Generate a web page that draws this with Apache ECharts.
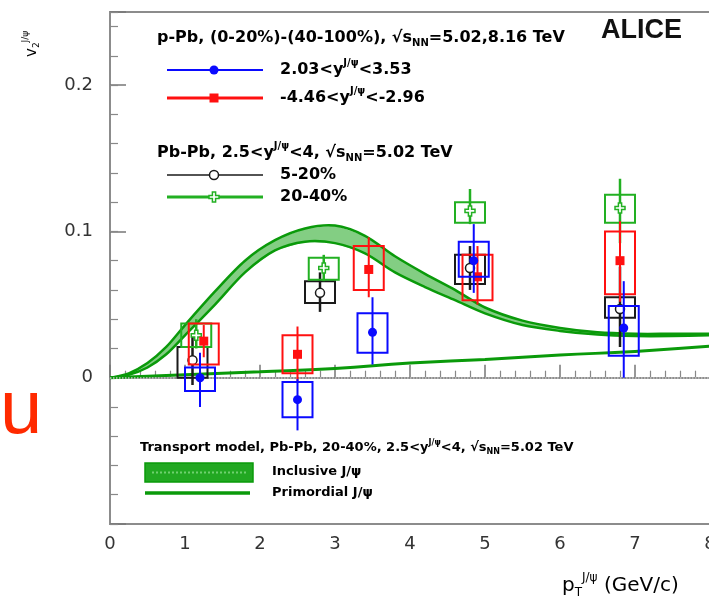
<!DOCTYPE html>
<html>
<head>
<meta charset="utf-8">
<script src="https://cdn.jsdelivr.net/npm/echarts@6/dist/echarts.min.js"></script>
<style>
html, body { margin: 0; padding: 0; background: #fff; }
#chart { width: 709px; height: 603px; }
</style>
</head>
<body>
<div id="chart"></div>
<script>
// transport model, Pb-Pb 20-40%
const modelPt = [0, 0.25, 0.5, 0.75, 1.0, 1.4, 1.8, 2.2, 2.6, 3.0, 3.4, 3.8, 4.2, 4.6, 5.0, 5.5, 6.0, 6.5, 7.0, 7.5, 8.0];
const inclusiveLow = [0, 0.002, 0.007, 0.016, 0.029, 0.050, 0.072, 0.087, 0.093, 0.092, 0.085, 0.072, 0.062, 0.053, 0.044, 0.036, 0.032, 0.0295, 0.0285, 0.0285, 0.029];
const inclusiveHigh = [0, 0.003, 0.010, 0.021, 0.036, 0.059, 0.080, 0.094, 0.102, 0.104, 0.097, 0.083, 0.071, 0.060, 0.048, 0.039, 0.034, 0.031, 0.030, 0.030, 0.030];
const primordialPt = [0, 1, 2, 3, 4, 5, 6, 7, 8];
const primordial = [0, 0.002, 0.004, 0.0063, 0.010, 0.0125, 0.0155, 0.018, 0.0215];

// points: [pT, v2, statLow, statHigh, sysLow, sysHigh]
const pPbForward = [
    [1.2, 0.000, -0.020, 0.017, -0.009, 0.007],
    [2.5, -0.015, -0.036, -0.001, -0.027, -0.003],
    [3.5, 0.031, 0.009, 0.055, 0.017, 0.044],
    [4.85, 0.080, 0.058, 0.105, 0.069, 0.093],
    [6.85, 0.034, 0.000, 0.066, 0.015, 0.049]
];
const pPbBackward = [
    [1.25, 0.025, 0.014, 0.036, 0.009, 0.037],
    [2.5, 0.016, -0.003, 0.035, 0.003, 0.029],
    [3.45, 0.074, 0.055, 0.096, 0.060, 0.090],
    [4.9, 0.069, 0.050, 0.090, 0.053, 0.084],
    [6.8, 0.080, 0.052, 0.107, 0.057, 0.100]
];
const PbPbCentral = [
    [1.1, 0.012, -0.005, 0.030, 0.000, 0.021],
    [2.8, 0.058, 0.045, 0.072, 0.051, 0.066],
    [4.8, 0.075, 0.060, 0.090, 0.064, 0.084],
    [6.8, 0.047, 0.021, 0.076, 0.041, 0.055]
];
const PbPbSemi = [
    [1.15, 0.029, 0.020, 0.040, 0.021, 0.037],
    [2.85, 0.075, 0.066, 0.084, 0.067, 0.082],
    [4.8, 0.114, 0.105, 0.129, 0.106, 0.120],
    [6.8, 0.116, 0.092, 0.136, 0.106, 0.125]
];

const F = '"DejaVu Sans", "Liberation Sans", sans-serif';
const BLUE = '#0a0aff', RED = '#ff1010', BLACK = '#1a1a1a', GREEN = '#22b022', BAND = '#0a9a0a';

function zip(xs, ys) {
    return xs.map((x, i) => [x, ys[i]]);
}

function markerShape(kind, cx, cy, color) {
    if (kind === 'square') {
        return { type: 'rect', shape: { x: cx - 4.5, y: cy - 4.5, width: 9, height: 9 }, style: { fill: color } };
    }
    if (kind === 'opencircle') {
        return { type: 'circle', shape: { cx: cx, cy: cy, r: 4.5 }, style: { fill: '#fff', stroke: color, lineWidth: 1.5 } };
    }
    if (kind === 'opencross') {
        const a = 1.6, b = 5;
        return { type: 'polygon', shape: { points: [
            [cx - a, cy - b], [cx + a, cy - b], [cx + a, cy - a], [cx + b, cy - a], [cx + b, cy + a], [cx + a, cy + a],
            [cx + a, cy + b], [cx - a, cy + b], [cx - a, cy + a], [cx - b, cy + a], [cx - b, cy - a], [cx - a, cy - a]
        ] }, style: { fill: '#fff', stroke: color, lineWidth: 1.5 } };
    }
    return { type: 'circle', shape: { cx: cx, cy: cy, r: 4.5 }, style: { fill: color } };
}

function pointSeries(data, color, kind, barWidth) {
    return {
        type: 'custom',
        data: data,
        encode: { x: 0, y: 1 },
        z: 5,
        renderItem: function (params, api) {
            const x = api.value(0);
            const p = api.coord([x, api.value(1)]);
            const s0 = api.coord([x, api.value(2)]);
            const s1 = api.coord([x, api.value(3)]);
            const b0 = api.coord([x - 0.2, api.value(4)]);
            const b1 = api.coord([x + 0.2, api.value(5)]);
            return {
                type: 'group',
                children: [
                    { type: 'rect', shape: { x: b0[0], y: b1[1], width: b1[0] - b0[0], height: b0[1] - b1[1] },
                      style: { fill: 'none', stroke: color, lineWidth: 2 } },
                    { type: 'line', shape: { x1: p[0], y1: s0[1], x2: p[0], y2: s1[1] },
                      style: { stroke: color, lineWidth: barWidth } },
                    markerShape(kind, p[0], p[1], color)
                ]
            };
        }
    };
}

function makeRich(size, weight) {
    const base = { fontFamily: F, fontWeight: weight, color: '#161616' };
    const small = Math.round(size * 0.62);
    return {
        t: Object.assign({ fontSize: size }, base),
        sup: Object.assign({ fontSize: small, padding: [0, 0, Math.round(size * 0.85), 0] }, base),
        sub: Object.assign({ fontSize: small, padding: [Math.round(size * 0.65), 0, 0, 0] }, base)
    };
}
const rich = makeRich(16, 'bold');
const smallRich = makeRich(13, 'bold');

function label(x, y, text, r) {
    return { type: 'text', x: x, y: y, style: { text: text, rich: r || rich, verticalAlign: 'middle', align: 'left' } };
}
function sample(y, color, width, kind) {
    return [
        { type: 'line', shape: { x1: 167, y1: y, x2: 263, y2: y }, style: { stroke: color, lineWidth: width } },
        markerShape(kind, 214, y, color)
    ];
}

const chart = echarts.init(document.getElementById('chart'), null, { renderer: 'canvas' });

chart.setOption({
    animation: false,
    backgroundColor: '#fff',
    grid: {
        left: 110, top: 12, width: 600, height: 512, outerBoundsMode: 'none',
        show: true, borderColor: '#8c8c8c', borderWidth: 2
    },
    xAxis: {
        type: 'value', min: 0, max: 8, interval: 1,
        axisLine: { lineStyle: { color: '#8c8c8c', width: 2 } },
        axisTick: { inside: true, length: 13, lineStyle: { color: '#777', width: 1.5 } },
        minorTick: { show: true, splitNumber: 5, length: 7, lineStyle: { color: '#888', width: 1.2 } },
        axisLabel: { fontSize: 18, color: '#333', margin: 11, fontFamily: F, showMaxLabel: true, hideOverlap: false },
        splitLine: { show: false }
    },
    yAxis: [{
        type: 'value', min: -0.1, max: 0.25, interval: 0.1,
        axisLine: { lineStyle: { color: '#8c8c8c', width: 2 } },
        axisTick: { inside: true, length: 16, lineStyle: { color: '#777', width: 1.5 } },
        axisLabel: {
            fontSize: 18, color: '#333', margin: 17, fontFamily: F,
            formatter: function (v) {
                const r = Math.round(v * 10) / 10;
                if (r < 0 || v > 0.21) return '';
                return String(r);
            }
        },
        splitLine: { show: false }
    }, {
        type: 'value', min: -0.1, max: 0.25, interval: 0.02, position: 'left',
        axisLine: { show: false },
        axisTick: { inside: true, length: 8, lineStyle: { color: '#888', width: 1.2 } },
        axisLabel: { show: false },
        splitLine: { show: false }
    }],
    series: [
        {
            // inclusive J/psi band, drawn once from the two edge arrays
            type: 'custom',
            data: modelPt.map((x, i) => [x, inclusiveLow[i], inclusiveHigh[i]]),
            encode: { x: 0, y: [1, 2] },
            clip: true,
            z: 2,
            renderItem: function (params, api) {
                if (params.dataIndex !== 0) return null;
                const lo = modelPt.map((x, i) => api.coord([x, inclusiveLow[i]]));
                const hi = modelPt.map((x, i) => api.coord([x, inclusiveHigh[i]]));
                return {
                    type: 'group',
                    children: [
                        { type: 'polygon', shape: { points: hi.concat(lo.slice().reverse()) },
                          style: { fill: 'rgba(30,165,30,0.55)' } },
                        { type: 'polyline', shape: { points: hi, smooth: 0.3 },
                          style: { stroke: BAND, lineWidth: 2.5, fill: null } },
                        { type: 'polyline', shape: { points: lo, smooth: 0.3 },
                          style: { stroke: BAND, lineWidth: 2.5, fill: null } }
                    ]
                };
            }
        },
        {
            type: 'line', data: zip(primordialPt, primordial), symbol: 'none', smooth: true,
            lineStyle: { color: BAND, width: 3 }, z: 2,
            markLine: {
                silent: true, symbol: 'none', label: { show: false },
                lineStyle: { color: '#c4c4c4', type: 'dotted', width: 1.5 },
                data: [{ yAxis: 0 }]
            }
        },
        pointSeries(PbPbCentral, BLACK, 'opencircle', 2.5),
        pointSeries(PbPbSemi, GREEN, 'opencross', 2.5),
        pointSeries(pPbBackward, RED, 'square', 2),
        pointSeries(pPbForward, BLUE, 'circle', 2)
    ],
    graphic: [
        // red stray glyph at left
        { type: 'text', x: 0, y: 412, style: { text: 'u', font: '76px "Liberation Sans", sans-serif', fill: '#ff2a00', verticalAlign: 'middle' } },
        // axis titles
        { type: 'text', x: 32, y: 57, rotation: Math.PI / 2,
          style: { text: '{t|v}{sub|2}{sup|J/ψ}', rich: makeRich(15, 'normal'), verticalAlign: 'middle' } },
        { type: 'text', x: 562, y: 586,
          style: { text: '{t|p}{sub|T}{sup|J/ψ}{t| (GeV/c)}', rich: makeRich(20, 'normal'), verticalAlign: 'middle' } },
        // ALICE
        { type: 'text', x: 601, y: 31, style: { text: 'ALICE', font: 'bold 27px "Liberation Sans", sans-serif', fill: '#111', verticalAlign: 'middle' } },
        // legend
        label(157, 38, '{t|p-Pb, (0-20%)-(40-100%), √}{t|s}{sub|NN}{t|=5.02,8.16 TeV}'),
        ...sample(70, BLUE, 2, 'circle'),
        label(280, 70, '{t|2.03<y}{sup|J/ψ}{t|<3.53}'),
        ...sample(98, RED, 3, 'square'),
        label(280, 98, '{t|-4.46<y}{sup|J/ψ}{t|<-2.96}'),
        label(157, 153, '{t|Pb-Pb, 2.5<y}{sup|J/ψ}{t|<4, √}{t|s}{sub|NN}{t|=5.02 TeV}'),
        ...sample(175, BLACK, 1.5, 'opencircle'),
        label(280, 175, '{t|5-20%}'),
        ...sample(197, GREEN, 3, 'opencross'),
        label(280, 197, '{t|20-40%}'),
        // model legend
        label(140, 448, '{t|Transport model, Pb-Pb, 20-40%, 2.5<y}{sup|J/ψ}{t|<4, √}{t|s}{sub|NN}{t|=5.02 TeV}', smallRich),
        { type: 'rect', shape: { x: 145, y: 463, width: 108, height: 19 }, style: { fill: '#22a822', stroke: BAND, lineWidth: 1.5 } },
        { type: 'line', shape: { x1: 152, y1: 472.5, x2: 246, y2: 472.5 }, style: { stroke: '#6fd06f', lineWidth: 2, lineDash: [2, 2] } },
        label(272, 472, '{t|Inclusive J/ψ}', smallRich),
        { type: 'line', shape: { x1: 145, y1: 493, x2: 250, y2: 493 }, style: { stroke: BAND, lineWidth: 3.5 } },
        label(272, 493, '{t|Primordial J/ψ}', smallRich)
    ]
});
</script>
</body>
</html>
